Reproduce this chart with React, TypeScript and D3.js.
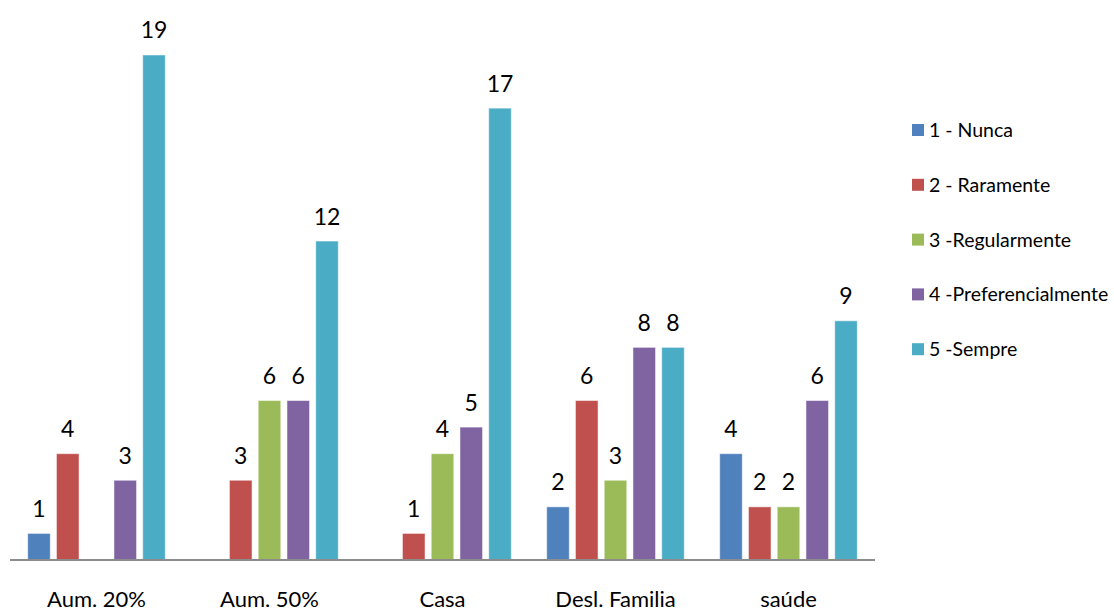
import React from "react";
import * as d3 from "d3";

// Categories along the x axis
const categories = ["Aum. 20%", "Aum. 50%", "Casa", "Desl. Familia", "saúde"];

// Series (frequency answers) and their colours
const seriesNames = [
  "1 - Nunca",
  "2 - Raramente",
  "3 -Regularmente",
  "4 -Preferencialmente",
  "5 -Sempre",
];
const seriesColors = ["#4F81BD", "#C0504D", "#9BBB59", "#8064A2", "#4BACC6"];

// Counts per series, one entry per category (null = no answer)
const nunca: (number | null)[] = [1, null, null, 2, 4];
const raramente: (number | null)[] = [4, 3, 1, 6, 2];
const regularmente: (number | null)[] = [null, 6, 4, 3, 2];
const preferencialmente: (number | null)[] = [3, 6, 5, 8, 6];
const sempre: (number | null)[] = [19, 12, 17, 8, 9];

const seriesValues = [nunca, raramente, regularmente, preferencialmente, sempre];

const W = 1114;
const H = 610;
const FONT = "Lato, 'Noto Sans', sans-serif";

export default function App() {
  const x0 = d3.scaleBand<string>().domain(categories).range([10, 875]).paddingInner(0).paddingOuter(0);
  const bw = x0.bandwidth();
  const x1 = d3
    .scaleBand<number>()
    .domain(d3.range(seriesNames.length))
    .range([17.7, bw - 17.7])
    .paddingInner(0.215)
    .paddingOuter(0);
  const baseline = 560;
  const y = d3.scaleLinear().domain([0, 20]).range([baseline, baseline - 20 * 26.58]);

  return (
    <svg
      width={W}
      height={H}
      style={{ position: "absolute", left: 0, top: 0, background: "#fff" }}
      fontFamily={FONT}
    >
      {categories.map((cat, ci) => (
        <g key={cat} transform={`translate(${x0(cat)},0)`}>
          {seriesValues.map((vals, si) => {
            const v = vals[ci];
            if (v == null) return null;
            const bx = x1(si)!;
            return (
              <g key={si}>
                <rect
                  x={bx}
                  y={y(v)}
                  width={x1.bandwidth()}
                  height={baseline - y(v)}
                  fill={seriesColors[si]}
                  stroke="#ffffff"
                  strokeOpacity={0.5}
                  strokeWidth={1}
                />
                <text
                  x={bx + x1.bandwidth() / 2}
                  y={y(v) - 16.5}
                  textAnchor="middle"
                  fontSize={23}
                  fill="#000"
                >
                  {v}
                </text>
              </g>
            );
          })}
          <text x={bw / 2} y={606.5} textAnchor="middle" fontSize={22} fill="#000">
            {cat}
          </text>
        </g>
      ))}
      <line x1={10} x2={875} y1={baseline} y2={baseline} stroke="#8c8c8c" strokeWidth={2} />

      {seriesNames.map((name, i) => {
        const cy = 130 + i * 54.8;
        return (
          <g key={name}>
            <rect x={912} y={cy - 6} width={12} height={12} fill={seriesColors[i]} />
            <text x={929} y={cy + 7} fontSize={19.5} fill="#000">
              {name}
            </text>
          </g>
        );
      })}
    </svg>
  );
}
